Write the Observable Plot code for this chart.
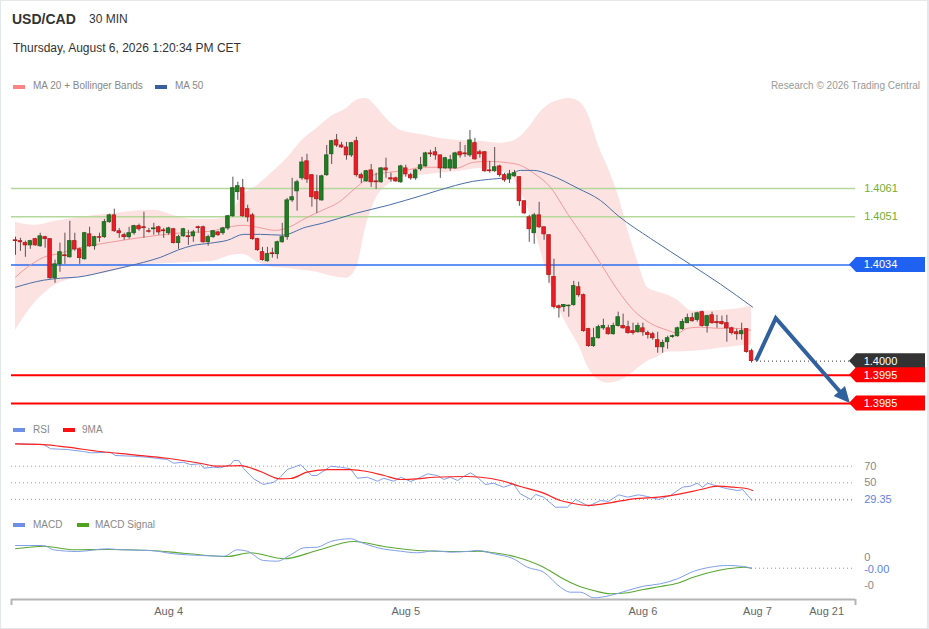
<!DOCTYPE html>
<html><head><meta charset="utf-8">
<script src="https://cdn.jsdelivr.net/npm/d3@7"></script>
<script src="https://cdn.jsdelivr.net/npm/@observablehq/plot@0.6"></script>
<style>
body{margin:0;background:#fff;font-family:"Liberation Sans",Arial,sans-serif;}
#wrap{position:relative;width:929px;height:629px;overflow:hidden;background:#fff}
.t{position:absolute;white-space:nowrap}
.sw{position:absolute;height:4px;width:12px}
</style></head><body>
<div id="wrap">
<div style="position:absolute;left:0;top:0;width:926px;height:627px;border:1px solid #e4e8eb;border-right-width:2px"></div>
<div class="t" style="left:12px;top:12px;font-size:14px;line-height:14px;font-weight:bold;color:#333">USD/CAD</div>
<div class="t" style="left:89px;top:13px;font-size:12px;line-height:12px;color:#333">30 MIN</div>
<div class="t" style="left:13px;top:42px;font-size:12px;line-height:12px;color:#333">Thursday, August 6, 2026 1:20:34 PM CET</div>
<div class="sw" style="left:13px;top:85px;background:#fb8585"></div>
<div class="t" style="left:33px;top:81px;font-size:10px;line-height:10px;color:#888">MA 20 + Bollinger Bands</div>
<div class="sw" style="left:155px;top:85px;background:#3a5f9f"></div>
<div class="t" style="left:175px;top:81px;font-size:10px;line-height:10px;color:#888">MA 50</div>
<div class="t" style="right:9px;top:81px;font-size:10px;line-height:10px;color:#999">Research © 2026 Trading Central</div>
<div class="sw" style="left:13px;top:428px;background:#6f8fe6"></div>
<div class="t" style="left:33px;top:425px;font-size:10px;line-height:10px;color:#888">RSI</div>
<div class="sw" style="left:63px;top:428px;background:#ff1010"></div>
<div class="t" style="left:82px;top:425px;font-size:10px;line-height:10px;color:#888">9MA</div>
<div class="sw" style="left:13px;top:523px;background:#6f8fe6"></div>
<div class="t" style="left:33px;top:520px;font-size:10px;line-height:10px;color:#888">MACD</div>
<div class="sw" style="left:77px;top:523px;background:#4ea21c"></div>
<div class="t" style="left:95px;top:520px;font-size:10px;line-height:10px;color:#888">MACD Signal</div>
</div>
<script>
// ---------- DATA ----------
const candleOpen = [1.40427,1.40424,1.40417,1.40409,1.40431,1.40406,1.40438,1.40431,1.40293,1.40342,
1.40374,1.40367,1.40424,1.40395,1.40360,1.40448,1.40406,1.40438,1.40438,1.40491,
1.40515,1.40459,1.40445,1.40438,1.40452,1.40477,1.40473,1.40459,1.40466,1.40473,
1.40462,1.40452,1.40466,1.40417,1.40441,1.40441,1.40441,1.40473,1.40473,1.40420,
1.40438,1.40455,1.40452,1.40469,1.40512,1.40597,1.40611,1.40537,1.40515,1.40431,
1.40385,1.40353,1.40381,1.40378,1.40420,1.40438,1.40568,1.40600,1.40646,1.40706,
1.40657,1.40597,1.40568,1.40657,1.40731,1.40780,1.40762,1.40755,1.40727,1.40777,
1.40657,1.40635,1.40674,1.40635,1.40632,1.40681,1.40646,1.40646,1.40632,1.40681,
1.40657,1.40646,1.40678,1.40688,1.40734,1.40738,1.40727,1.40681,1.40681,1.40681,
1.40738,1.40734,1.40727,1.40770,1.40738,1.40738,1.40674,1.40671,1.40688,1.40657,
1.40642,1.40653,1.40650,1.40565,1.40508,1.40452,1.40515,1.40473,1.40445,1.40297,
1.40194,1.40191,1.40194,1.40198,1.40261,1.40233,1.40113,1.40053,1.40081,1.40116,
1.40116,1.40095,1.40124,1.40124,1.40120,1.40106,1.40102,1.40116,1.40099,1.40095,
1.40074,1.40049,1.40067,1.40085,1.40088,1.40113,1.40134,1.40152,1.40145,1.40173,
1.40124,1.40162,1.40138,1.40138,1.40134,1.40116,1.40102,1.40095,1.40113,1.40035];
const candleHigh = [1.40438,1.40434,1.40424,1.40427,1.40434,1.40452,1.40441,1.40431,1.40357,1.40417,
1.40452,1.40494,1.40452,1.40399,1.40455,1.40473,1.40441,1.40452,1.40501,1.40519,
1.40537,1.40469,1.40452,1.40473,1.40480,1.40484,1.40526,1.40469,1.40487,1.40477,
1.40469,1.40473,1.40469,1.40445,1.40469,1.40462,1.40462,1.40477,1.40477,1.40445,
1.40462,1.40459,1.40473,1.40515,1.40650,1.40632,1.40642,1.40551,1.40522,1.40434,
1.40402,1.40402,1.40399,1.40424,1.40487,1.40575,1.40646,1.40639,1.40720,1.40731,
1.40657,1.40657,1.40657,1.40762,1.40780,1.40801,1.40773,1.40773,1.40773,1.40791,
1.40664,1.40674,1.40695,1.40664,1.40684,1.40717,1.40664,1.40650,1.40692,1.40692,
1.40664,1.40678,1.40720,1.40738,1.40745,1.40755,1.40727,1.40720,1.40727,1.40738,
1.40773,1.40762,1.40815,1.40787,1.40745,1.40741,1.40706,1.40755,1.40692,1.40664,
1.40674,1.40674,1.40650,1.40565,1.40515,1.40522,1.40561,1.40473,1.40445,1.40360,
1.40198,1.40200,1.40198,1.40282,1.40279,1.40237,1.40116,1.40116,1.40127,1.40148,
1.40127,1.40134,1.40173,1.40166,1.40141,1.40134,1.40134,1.40134,1.40106,1.40102,
1.40102,1.40074,1.40088,1.40092,1.40120,1.40148,1.40166,1.40169,1.40173,1.40177,
1.40162,1.40173,1.40162,1.40159,1.40162,1.40120,1.40113,1.40134,1.40113,1.40042];
const candleLow = [1.40374,1.40388,1.40367,1.40395,1.40406,1.40402,1.40399,1.40289,1.40275,1.40314,
1.40342,1.40364,1.40388,1.40342,1.40357,1.40402,1.40392,1.40420,1.40434,1.40487,
1.40455,1.40434,1.40427,1.40431,1.40445,1.40459,1.40434,1.40452,1.40445,1.40445,
1.40434,1.40445,1.40414,1.40395,1.40438,1.40409,1.40420,1.40452,1.40417,1.40406,
1.40434,1.40441,1.40445,1.40462,1.40508,1.40568,1.40508,1.40491,1.40427,1.40388,
1.40353,1.40350,1.40364,1.40360,1.40417,1.40427,1.40561,1.40530,1.40639,1.40628,
1.40544,1.40522,1.40565,1.40653,1.40695,1.40755,1.40752,1.40710,1.40720,1.40650,
1.40628,1.40632,1.40614,1.40607,1.40628,1.40646,1.40632,1.40632,1.40628,1.40650,
1.40639,1.40639,1.40671,1.40685,1.40720,1.40710,1.40646,1.40678,1.40671,1.40678,
1.40717,1.40720,1.40720,1.40710,1.40717,1.40667,1.40664,1.40667,1.40650,1.40632,
1.40628,1.40650,1.40547,1.40519,1.40420,1.40413,1.40469,1.40427,1.40275,1.40184,
1.40152,1.40173,1.40155,1.40194,1.40226,1.40102,1.40049,1.40049,1.40078,1.40109,
1.40092,1.40092,1.40120,1.40113,1.40095,1.40092,1.40099,1.40088,1.40078,1.40074,
1.40028,1.40028,1.40042,1.40081,1.40085,1.40109,1.40134,1.40138,1.40138,1.40120,
1.40099,1.40131,1.40116,1.40127,1.40067,1.40092,1.40074,1.40074,1.40028,1.39993];
const candleClose = [1.40424,1.40420,1.40409,1.40424,1.40409,1.40441,1.40431,1.40293,1.40342,1.40385,
1.40371,1.40424,1.40395,1.40364,1.40452,1.40406,1.40438,1.40436,1.40491,1.40515,
1.40459,1.40452,1.40438,1.40452,1.40477,1.40466,1.40470,1.40457,1.40469,1.40455,
1.40459,1.40469,1.40417,1.40438,1.40466,1.40438,1.40455,1.40470,1.40420,1.40438,
1.40459,1.40445,1.40469,1.40512,1.40611,1.40618,1.40512,1.40508,1.40431,1.40392,
1.40357,1.40378,1.40378,1.40420,1.40438,1.40568,1.40579,1.40632,1.40702,1.40642,
1.40579,1.40572,1.40653,1.40727,1.40777,1.40762,1.40755,1.40727,1.40770,1.40657,
1.40646,1.40671,1.40632,1.40632,1.40681,1.40674,1.40642,1.40635,1.40688,1.40660,
1.40646,1.40674,1.40692,1.40734,1.40731,1.40727,1.40681,1.40717,1.40710,1.40734,
1.40727,1.40731,1.40780,1.40713,1.40731,1.40671,1.40671,1.40685,1.40657,1.40639,
1.40660,1.40664,1.40565,1.40522,1.40466,1.40515,1.40473,1.40448,1.40304,1.40191,
1.40187,1.40198,1.40196,1.40265,1.40233,1.40106,1.40053,1.40081,1.40120,1.40124,
1.40095,1.40124,1.40155,1.40116,1.40099,1.40099,1.40124,1.40102,1.40092,1.40081,
1.40049,1.40064,1.40081,1.40088,1.40116,1.40138,1.40152,1.40141,1.40169,1.40124,
1.40159,1.40134,1.40134,1.40131,1.40116,1.40099,1.40095,1.40106,1.40032,1.40000];

const bandIdx = [0,4,8,12,16,20,24,28,32,36,40,43,46,49,52,55,58,61,64,67,69,71,73,75,78,82,86,90,94,98,101,104,106,108,110,112,114,116,118,120,122,124,126,128,130,132,134,137,140,143,146,149];
const bandUpper = [1.40491,1.4048,1.40494,1.40505,1.40515,1.40522,1.4053,1.40533,1.40515,1.40501,1.40501,1.40512,1.40586,1.40621,1.40667,1.40717,1.4078,1.40822,1.40865,1.40893,1.40921,1.40928,1.409,1.40858,1.40815,1.40801,1.40787,1.4078,1.40777,1.4077,1.4078,1.40826,1.40875,1.40907,1.40921,1.40928,1.40918,1.40868,1.40762,1.40681,1.40586,1.40462,1.40349,1.40258,1.40244,1.40233,1.40215,1.40177,1.40177,1.4018,1.40184,1.40194];
const bandLower = [1.40109,1.40208,1.40268,1.40293,1.40304,1.40318,1.40335,1.40342,1.40346,1.40349,1.40353,1.40371,1.40378,1.40349,1.40332,1.40328,1.40321,1.40314,1.403,1.40293,1.40328,1.4048,1.40575,1.40618,1.40646,1.40657,1.40664,1.40671,1.40681,1.40674,1.40639,1.40526,1.40409,1.40286,1.40187,1.40116,1.40056,1.39975,1.39933,1.39922,1.39929,1.39947,1.39975,1.4,1.40014,1.40032,1.40032,1.40035,1.40039,1.40046,1.40053,1.40056];

const ma20Idx = [0,2.4,5.7,9.1,12.6,19.2,25.9,32.8,39.5,42.9,46.2,49,52.6,55.3,58.7,62.1,65.4,68.8,72.3,75.5,78.9,82.4,85.6,89.1,92.5,95.7,99.2,102.2,104.9,108.3,111.7,115,118.4,121.9,125.1,128.5,132,134,136,138.7,142.1,145.3,148.8];
const ma20Val = [1.40297,1.40332,1.40367,1.40381,1.40399,1.4042,1.40438,1.40452,1.40459,1.40473,1.4048,1.40473,1.40462,1.40473,1.40505,1.40533,1.40561,1.40611,1.40657,1.40667,1.40674,1.40685,1.40685,1.40681,1.40702,1.40706,1.40702,1.40692,1.40664,1.40614,1.40522,1.40438,1.40346,1.40251,1.4018,1.40134,1.40109,1.40099,1.40116,1.4012,1.40116,1.40116,1.40109];
const ma50Idx = [0,5.7,9.1,12.6,19.2,25.9,29.4,32.8,36,39.5,42.9,46.2,49.6,54,58.7,62.1,68.8,75.5,82.4,89.1,92.5,95.7,99.2,102.2,104.9,108.3,113.8,118.4,122.1,128.5,136.6,142.7,149.2];
const ma50Val = [1.40261,1.40286,1.40293,1.40297,1.40321,1.40349,1.40367,1.40392,1.40409,1.40417,1.40427,1.40448,1.40448,1.40445,1.40473,1.40487,1.40522,1.40551,1.40586,1.40621,1.40635,1.40642,1.40649,1.40674,1.40674,1.40657,1.40611,1.40568,1.40512,1.40434,1.40342,1.40272,1.40191];

const resistanceLevels = [1.4061, 1.4051];
const pivotLevel = 1.4034;
const lastPrice = 1.4000;
const supportLevels = [1.3995, 1.3985];
const arrowIdx = [150, 154, 169];
const arrowPrice = [1.4000, 1.4015, 1.3985];

const rsiIdx = [0,5.7,7.1,10.5,13.8,15.2,19.2,20.2,24,26.7,30.7,32,34,35.4,37.4,38.1,40.1,41.5,43.5,44.2,45.2,46.2,48.2,50.2,52.3,53.6,55,57.7,60,61,63.8,65.8,67.8,69.2,71.2,73.3,74.5,76.6,78,80,82,83.4,85.4,86.7,88,89.5,90.7,92.1,93.5,95.1,96.8,98.8,100.8,102.2,104.3,105.3,106.9,109.3,111.7,113.4,116,118.4,120,122.1,123.9,126.1,127.9,130.2,132.6,135,136.6,138,139.1,140.1,142.1,144.1,146.2,147.2,149];
const rsiVal = [97.0,96.1,91.0,90.1,87.7,86.1,86.9,82.9,82.0,80.8,78.1,73.6,74.8,72.0,72.9,67.6,68.8,68.1,71.7,76.9,76.9,66.9,54.8,48.0,50.7,56.7,66.0,71.7,58.8,58.8,70.0,68.8,66.9,55.5,56.7,51.9,55.5,51.9,56.7,51.6,56.7,60.8,58.8,54.0,56.7,52.8,57.6,62.0,56.7,48.0,49.5,44.7,48.8,36.7,29.9,35.9,32.7,20.6,20.6,29.9,21.8,28.7,27.5,35.5,32.7,35.5,33.5,29.9,34.7,44.7,45.9,49.5,44.7,49.5,45.9,42.8,40.7,41.9,29.35];
const rsiMaIdx = [0,5.7,10.5,17.2,24,30.7,37.4,40.8,45.5,49.6,53.6,55.7,59,63.1,67.8,71.2,74.6,78,81.3,84.7,91.4,94.1,98.2,102.2,106.9,110.3,112.3,116,120.4,125.1,130.6,134.6,138.7,142.1,145.3,148.2,149.2];
const rsiMaVal = [97.0,96.1,92.9,87.7,83.7,79.6,73.6,70.0,70.8,63.6,54.8,55.2,62.8,66.0,66.0,63.6,58.8,54.0,54.8,56.7,57.6,56.7,52.8,45.5,37.5,28.7,25.9,22.7,25.9,30.7,33.1,36.7,41.9,45.9,44.7,42.8,40.7];
const rsiLevels = [70, 50, 30];
const rsiLabels = [70, 50];
const rsiLast = 29.35;

const macdIdx = [0,5.7,7.7,12.5,18.6,21.3,27.3,32,37.4,42.2,44.9,46.9,50.2,53,55.7,58.4,61.1,63.8,67.8,69.8,73.3,77.9,81.4,84.7,88.1,92.1,93.5,96.8,100.8,103.6,106.9,110.3,112.3,114.4,117,120.4,123.9,127.1,130.6,134,137.2,140.7,144.1,147.4,149];
const macdVal = [0.000224,0.000224,0.000148,0.000118,0.000166,0.000148,0.000136,0.000078,0.000048,0.000035,0.000148,0.000124,-0.000041,-0.000053,0.00006,0.000184,0.000194,0.000295,0.000343,0.000283,0.000184,0.000124,0.000095,0.000131,0.000106,0.000124,0.000136,0.000078,-0.000011,-0.000159,-0.000247,-0.000512,-0.000601,-0.000601,-0.0007,-0.000659,-0.000571,-0.000495,-0.000452,-0.000364,-0.000235,-0.000159,-0.000129,-0.000147,-0.000177];
const signalIdx = [0,5.7,11.8,18.6,27.3,34,42.9,47.6,54.3,61.1,68.5,74.6,81.4,88.1,92.1,93.5,96.8,101.5,106.9,110.3,113.7,117,120.4,123.9,127.1,130.6,134,137.2,140.7,144.1,147.4,149];
const signalVal = [0.000166,0.000212,0.000148,0.000154,0.000136,0.000088,0.00003,0.000095,-0.000011,0.000136,0.000295,0.000207,0.000136,0.000118,0.000118,0.000124,0.000095,0.000018,-0.000159,-0.000336,-0.000482,-0.000571,-0.000629,-0.000611,-0.000553,-0.0005,-0.000442,-0.000336,-0.000247,-0.000187,-0.000159,-0.000177];
const macdTicks = [0, -0.0005];
const macdTickLabels = ["0", "-0"];
const macdLastLabel = "-0.00";

const xTickPos = [31, 79, 127, 150.2, 164.2];
const xTickLabels = ["Aug 4", "Aug 5", "Aug 6", "Aug 7", "Aug 21"];

// ---------- BUILD ----------
const W = 929, ML = 11, MR = 74;
const xDomain = [-0.81, 170.04];
const labelX = 171.8;
const font = "'Liberation Sans', Arial, sans-serif";
const baseStyle = {fontFamily: font, fontSize: "11px", background: "transparent", overflow: "visible"};
const GREEN = "#1f7d22", RED = "#ec1c24";

const bars = candleClose.map((c, i) => ({i, o: candleOpen[i], h: candleHigh[i], l: candleLow[i], c}));
const up = bars.filter(d => d.c >= d.o), down = bars.filter(d => d.c < d.o);
const band = bandIdx.map((i, k) => ({i, hi: bandUpper[k], lo: bandLower[k]}));
const ma20 = ma20Idx.map((i, k) => ({i, v: ma20Val[k]}));
const ma50 = ma50Idx.map((i, k) => ({i, v: ma50Val[k]}));

const wrap = document.getElementById("wrap");
function place(el, top) { el.style.position = "absolute"; el.style.left = "0px"; el.style.top = top + "px"; wrap.appendChild(el); }

const price = Plot.plot({
  width: W, height: 320, marginLeft: ML, marginRight: MR, marginTop: 0, marginBottom: 0,
  style: baseStyle,
  x: {domain: xDomain, axis: null},
  y: {domain: [1.398079, 1.409386], axis: null},
  marks: [
    Plot.areaY(band, {x: "i", y1: "lo", y2: "hi", fill: "#fde2e2", curve: "monotone-x"}),
    Plot.ruleY(resistanceLevels, {stroke: "#b4d89a", strokeWidth: 1.5}),
    Plot.ruleY([pivotLevel], {stroke: "#2b6cf0", strokeWidth: 1.5}),
    Plot.ruleY(supportLevels, {stroke: "#ff0000", strokeWidth: 2}),
    Plot.line(ma20, {x: "i", y: "v", stroke: "#f39a9a", strokeWidth: 1, curve: "monotone-x"}),
    Plot.line(ma50, {x: "i", y: "v", stroke: "#4a6ea8", strokeWidth: 1, curve: "monotone-x"}),
    Plot.ruleX(bars, {x: "i", y1: "l", y2: "h", stroke: "#5f5050", strokeWidth: 1}),
    Plot.rect(up, {x1: d => d.i - 0.36, x2: d => d.i + 0.36, y1: "o", y2: "c", fill: GREEN, stroke: "#1d5f1f", strokeWidth: 0.8}),
    Plot.rect(down, {x1: d => d.i - 0.36, x2: d => d.i + 0.36, y1: "o", y2: "c", fill: RED, stroke: "#b01a1a", strokeWidth: 0.8}),
    Plot.ruleY([lastPrice], {x1: arrowIdx[0], x2: xDomain[1], stroke: "#333", strokeDasharray: "1,3"}),
    Plot.text(resistanceLevels, {x: labelX, y: d => d, text: d => d.toFixed(4), fill: "#72ad2e", textAnchor: "start", fontSize: 11})
  ]
});
place(price, 95);

// tags and arrow through the plot's scales
(function () {
  const sx = price.scale("x").apply, sy = price.scale("y").apply;
  const svg = d3.select(price);
  const right = W - MR;
  const tags = [
    {p: pivotLevel, fill: "#1f62f2"},
    {p: lastPrice, fill: "#333333"},
    {p: supportLevels[0], fill: "#ff0000"},
    {p: supportLevels[1], fill: "#ff0000"}
  ];
  const g = svg.append("g");
  tags.forEach(t => {
    const y = sy(t.p);
    g.append("polygon")
      .attr("points", `${right - 6},${y} ${right + 1},${y - 7.5} ${W - 4},${y - 7.5} ${W - 4},${y + 7.5} ${right + 1},${y + 7.5}`)
      .attr("fill", t.fill);
    g.append("text").attr("x", sx(labelX)).attr("y", y).attr("dy", "0.36em")
      .attr("text-anchor", "start")
      .attr("fill", "#fff").attr("font-size", 11).attr("font-family", font).text(t.p.toFixed(4));
  });
  const pts = arrowIdx.map((d, k) => [sx(d), sy(arrowPrice[k])]);
  const tip = pts[2], prev = pts[1];
  const dx = tip[0] - prev[0], dy = tip[1] - prev[1], len = Math.hypot(dx, dy);
  const ux = dx / len, uy = dy / len, headL = 16, headW = 7.5;
  const base = [tip[0] - ux * headL, tip[1] - uy * headL];
  svg.append("path")
    .attr("d", `M${pts[0][0]},${pts[0][1]}L${pts[1][0]},${pts[1][1]}L${base[0] + ux * 2},${base[1] + uy * 2}`)
    .attr("fill", "none").attr("stroke", "#31609e").attr("stroke-width", 4).attr("stroke-linejoin", "miter");
  svg.append("polygon")
    .attr("points", `${tip[0]},${tip[1]} ${base[0] - uy * headW},${base[1] + ux * headW} ${base[0] + uy * headW},${base[1] - ux * headW}`)
    .attr("fill", "#31609e");
})();

const rsiLine = rsiIdx.map((i, k) => ({i, v: rsiVal[k]}));
const rsiMa = rsiMaIdx.map((i, k) => ({i, v: rsiMaVal[k]}));
const rsi = Plot.plot({
  width: W, height: 80, marginLeft: ML, marginRight: MR, marginTop: 0, marginBottom: 0,
  style: baseStyle,
  x: {domain: xDomain, axis: null},
  y: {domain: [10.6, 107], axis: null},
  marks: [
    Plot.ruleY(rsiLevels, {stroke: "#a0a0a0", strokeDasharray: "1,3"}),
    Plot.ruleY([rsiLast], {x1: rsiIdx[rsiIdx.length - 1], x2: xDomain[1], stroke: "#6f8fe6", strokeDasharray: "1,3"}),
    Plot.line(rsiLine, {x: "i", y: "v", stroke: "#819fe8", strokeWidth: 1}),
    Plot.line(rsiMa, {x: "i", y: "v", stroke: "#ff2020", strokeWidth: 1.2, curve: "monotone-x"}),
    Plot.text(rsiLabels, {x: labelX, y: d => d, text: d => String(d), fill: "#888", textAnchor: "start", fontSize: 11}),
    Plot.text([rsiLast], {x: labelX, y: d => d, text: d => d.toFixed(2), fill: "#5f82e0", textAnchor: "start", fontSize: 11})
  ]
});
place(rsi, 435);

const macdLine = macdIdx.map((i, k) => ({i, v: macdVal[k]}));
const sigLine = signalIdx.map((i, k) => ({i, v: signalVal[k]}));
const macdLast = macdVal[macdVal.length - 1];
const macd = Plot.plot({
  width: W, height: 99, marginLeft: ML, marginRight: MR, marginTop: 0, marginBottom: 30,
  style: baseStyle,
  x: {domain: xDomain, axis: null},
  y: {domain: [-0.00073, 0.000489], axis: null},
  marks: [
    Plot.ruleY([macdLast], {x1: macdIdx[macdIdx.length - 1], x2: xDomain[1], stroke: "#6f8fe6", strokeDasharray: "1,3"}),
    Plot.line(sigLine, {x: "i", y: "v", stroke: "#5aa832", strokeWidth: 1.1, curve: "monotone-x"}),
    Plot.line(macdLine, {x: "i", y: "v", stroke: "#819fe8", strokeWidth: 1, curve: "monotone-x"}),
    Plot.text(macdTicks, {x: labelX, y: d => d, text: (d, i) => macdTickLabels[i], fill: "#888", textAnchor: "start", fontSize: 11, dy: -1}),
    Plot.text([macdLast], {x: labelX, y: d => d, text: () => macdLastLabel, fill: "#5f82e0", textAnchor: "start", fontSize: 11, dy: 1}),
    Plot.ruleY([-0.00073], {stroke: "#b5b5b5", strokeWidth: 2}),
    Plot.axisX(xDomain, {tickSize: 6, tickFormat: () => "", label: null, stroke: "#b5b5b5", strokeWidth: 2}),
    Plot.axisX(xTickPos, {tickSize: 0, tickPadding: 8, label: null, tickFormat: d => xTickLabels[xTickPos.indexOf(d)], fill: "#666", fontSize: 11})
  ]
});
place(macd, 530);
</script>
</body></html>
